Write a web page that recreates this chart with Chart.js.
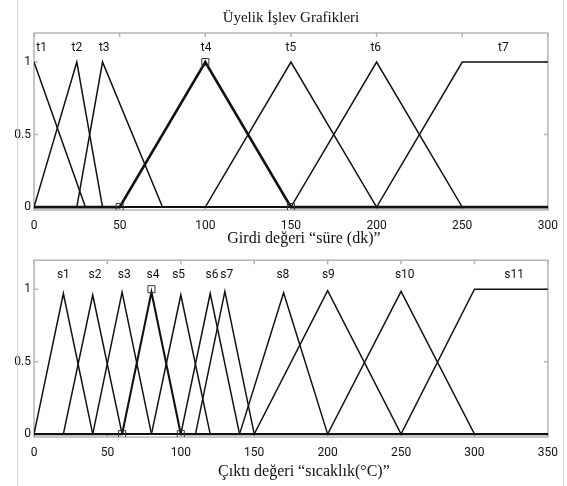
<!DOCTYPE html>
<html>
<head>
<meta charset="utf-8">
<script src="https://cdn.jsdelivr.net/npm/chart.js@4.4.1/dist/chart.umd.min.js"></script>
<style>
  html, body { margin: 0; padding: 0; background: #fff; }
  #page { position: relative; width: 567px; height: 486px; overflow: hidden; }
  #page canvas { position: absolute; left: 0; }
  .edge { position: absolute; top: 0; width: 1px; height: 486px; background: #d6d6d6; }
</style>
</head>
<body>
<div id="page">
  <canvas id="inputChart" width="567" height="250" style="top:0"></canvas>
  <canvas id="outputChart" width="567" height="236" style="top:250px"></canvas>
  <div class="edge" style="left:17px"></div>
  <div class="edge" style="left:563px"></div>
</div>
<script>
// girdi: süre (dk)
const inputNames = ["t1", "t2", "t3", "t4", "t5", "t6", "t7"];
const inputX = [
  [0, 30, 300],
  [0, 25, 40, 300],
  [0, 25, 40, 75, 300],
  [0, 50, 100, 150, 300],
  [0, 100, 150, 200, 300],
  [0, 150, 200, 250, 300],
  [0, 200, 250, 300]
];
const inputY = [
  [1, 0, 0],
  [0, 1, 0, 0],
  [0, 0, 1, 0, 0],
  [0, 0, 1, 0, 0],
  [0, 0, 1, 0, 0],
  [0, 0, 1, 0, 0],
  [0, 0, 1, 1]
];
const inputLabelX = [4.5, 25, 41, 100.5, 150, 199.5, 274];
const inputMarkX = [50, 100, 150];
const inputMarkY = [0, 1, 0];

// çıktı: sıcaklık (°C)
const outputNames = ["s1", "s2", "s3", "s4", "s5", "s6", "s7", "s8", "s9", "s10", "s11"];
const outputX = [
  [0, 20, 40, 350],
  [0, 20, 40, 60, 350],
  [0, 40, 60, 80, 350],
  [0, 60, 80, 100, 350],
  [0, 80, 100, 120, 350],
  [0, 100, 120, 140, 350],
  [0, 110, 130, 150, 350],
  [0, 140, 170, 200, 350],
  [0, 150, 200, 250, 350],
  [0, 200, 250, 300, 350],
  [0, 250, 300, 350]
];
const outputY = [
  [0, 0.97, 0, 0],
  [0, 0, 0.96, 0, 0],
  [0, 0, 0.98, 0, 0],
  [0, 0, 0.98, 0, 0],
  [0, 0, 0.96, 0, 0],
  [0, 0, 0.97, 0, 0],
  [0, 0, 0.985, 0, 0],
  [0, 0, 0.975, 0, 0],
  [0, 0, 0.99, 0, 0],
  [0, 0, 0.985, 0, 0],
  [0, 0, 1, 1]
];
const outputLabelX = [20, 41.5, 61.5, 81, 98.5, 121.2, 131.3, 169.5, 200.5, 252.5, 327];
const outputMarkX = [60, 80, 100];
const outputMarkY = [0, 1, 0];

const yTicks = [0, 0.5, 1];

const tickFont = "'Liberation Sans Narrow', Roboto, sans-serif";
const serifFont = "'Liberation Serif', 'Times New Roman', serif";

// box round the plot with small inward ticks, names over the curves, caption under the axis
const framePlugin = {
  id: "frame",
  beforeDatasetsDraw(chart) {
    const {ctx, chartArea: a, scales: {x, y}} = chart;
    ctx.save();
    ctx.strokeStyle = "#b4b4b4";
    ctx.lineWidth = 1.5;
    ctx.strokeRect(a.left, a.top, a.width, a.height);
    ctx.beginPath();
    x.ticks.forEach(t => {
      const px = x.getPixelForValue(t.value);
      ctx.moveTo(px, a.top); ctx.lineTo(px, a.top + 4);
      ctx.moveTo(px, a.bottom); ctx.lineTo(px, a.bottom - 4);
    });
    y.ticks.forEach(t => {
      const py = y.getPixelForValue(t.value);
      ctx.moveTo(a.left, py); ctx.lineTo(a.left + 4, py);
      ctx.moveTo(a.right, py); ctx.lineTo(a.right - 4, py);
    });
    ctx.stroke();
    ctx.restore();
  },
  afterDraw(chart, args, opts) {
    const {ctx, chartArea: a, scales: {x, y}} = chart;
    ctx.save();
    ctx.fillStyle = "#111";
    ctx.textAlign = "center";
    ctx.textBaseline = "middle";
    ctx.font = "12px " + tickFont;
    opts.names.forEach((n, i) => {
      ctx.fillText(n, x.getPixelForValue(opts.labelX[i]), y.getPixelForValue(opts.labelY));
    });
    ctx.font = "16px " + serifFont;
    ctx.fillText(opts.caption, (a.left + a.right) / 2 + 13, a.bottom + opts.captionGap);
    ctx.restore();
  }
};

function makeDatasets(names, xs, ys, bold, boldWidth, markX, markY) {
  const sets = names.map((name, i) => ({
    label: name,
    data: xs[i].map((v, j) => ({x: v, y: ys[i][j]})),
    showLine: true,
    borderColor: "#111",
    borderWidth: i === bold ? boldWidth : 1.5,
    pointRadius: 0,
    tension: 0,
    order: i === bold ? 1 : 2
  }));
  sets.push({
    label: names[bold] + " noktalar",
    data: markX.map((v, j) => ({x: v, y: markY[j]})),
    showLine: false,
    pointStyle: "rect",
    pointRadius: 5,
    pointBorderColor: "#333",
    pointBorderWidth: 1,
    pointBackgroundColor: "rgba(0,0,0,0)",
    order: 0
  });
  return sets;
}

function makeChart(canvasId, o) {
  return new Chart(document.getElementById(canvasId), {
    type: "scatter",
    data: {datasets: makeDatasets(o.names, o.xs, o.ys, o.bold, o.boldWidth, o.markX, o.markY)},
    options: {
      responsive: false,
      animation: false,
      devicePixelRatio: 1,
      layout: {padding: {top: o.padTop, right: 12, bottom: 0, left: 0}},
      scales: {
        x: {
          type: "linear",
          min: 0,
          max: o.xMax,
          grid: {display: false, drawTicks: false},
          border: {display: false},
          ticks: {stepSize: 50, padding: 9, color: "#111", font: {family: tickFont, size: 12}},
          afterFit(s) { s.height = o.xHeight; }
        },
        y: {
          min: -0.02,
          max: 1.2,
          grid: {display: false, drawTicks: false},
          border: {display: false},
          afterBuildTicks(s) { s.ticks = yTicks.map(v => ({value: v})); },
          ticks: {padding: 3, color: "#111", font: {family: tickFont, size: 12}, callback: v => String(v)},
          afterFit(s) { s.width = 34; }
        }
      },
      plugins: {
        legend: {display: false},
        tooltip: {enabled: false},
        title: o.title ? {
          display: true,
          text: o.title,
          fullSize: false,
          color: "#111",
          font: {family: serifFont, size: 15, weight: "normal"},
          padding: {top: 9, bottom: 6}
        } : {display: false},
        frame: {names: o.names, labelX: o.labelX, labelY: o.labelY, caption: o.caption, captionGap: o.captionGap}
      }
    },
    plugins: [framePlugin]
  });
}

makeChart("inputChart", {
  names: inputNames, xs: inputX, ys: inputY, bold: 3, boldWidth: 2.6,
  markX: inputMarkX, markY: inputMarkY,
  labelX: inputLabelX, labelY: 1.1,
  xMax: 300, xHeight: 40, padTop: 0,
  title: "Üyelik İşlev Grafikleri",
  caption: "Girdi değeri “süre (dk)”", captionGap: 28.5
});

makeChart("outputChart", {
  names: outputNames, xs: outputX, ys: outputY, bold: 3, boldWidth: 2.1,
  markX: outputMarkX, markY: outputMarkY,
  labelX: outputLabelX, labelY: 1.095,
  xMax: 350, xHeight: 49, padTop: 9,
  title: null,
  caption: "Çıktı değeri “sıcaklık(°C)”", captionGap: 34.5
});
</script>
</body>
</html>
